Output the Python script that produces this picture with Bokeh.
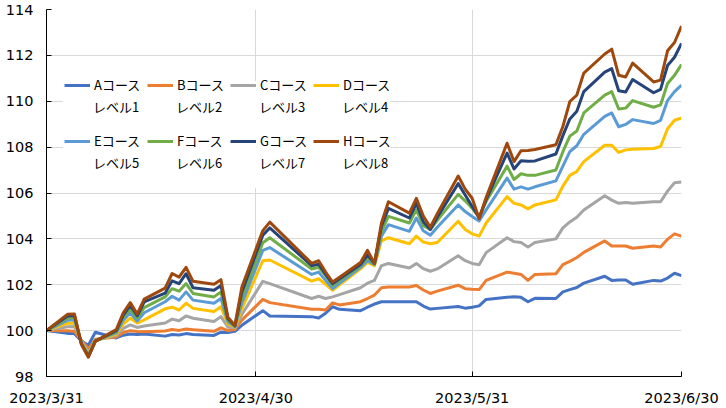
import pandas as pd
from bokeh.plotting import figure
from bokeh.models import FixedTicker, Legend, LegendItem
from bokeh.embed import file_html
from bokeh.resources import INLINE

dates = ["2023-03-31", "2023-04-03", "2023-04-04", "2023-04-05", "2023-04-06", "2023-04-07",
         "2023-04-10", "2023-04-11", "2023-04-12", "2023-04-13", "2023-04-14",
         "2023-04-17", "2023-04-18", "2023-04-19", "2023-04-20", "2023-04-21",
         "2023-04-24", "2023-04-25", "2023-04-26", "2023-04-27", "2023-04-28",
         "2023-05-01", "2023-05-02",
         "2023-05-08", "2023-05-09", "2023-05-10", "2023-05-11", "2023-05-12",
         "2023-05-15", "2023-05-16", "2023-05-17", "2023-05-18", "2023-05-19",
         "2023-05-22", "2023-05-23", "2023-05-24", "2023-05-25", "2023-05-26",
         "2023-05-29", "2023-05-30", "2023-05-31", "2023-06-01", "2023-06-02",
         "2023-06-05", "2023-06-06", "2023-06-07", "2023-06-08", "2023-06-09",
         "2023-06-12", "2023-06-13", "2023-06-14", "2023-06-15", "2023-06-16",
         "2023-06-19", "2023-06-20", "2023-06-21", "2023-06-22", "2023-06-23",
         "2023-06-26", "2023-06-27", "2023-06-28", "2023-06-29", "2023-06-30"]

course_a = [100, 99.88, 99.87, 99.55, 99.36, 99.93, 99.68, 99.8, 99.85, 99.83, 99.85, 99.76, 99.83, 99.81, 99.87, 99.83,
            99.79, 99.93, 99.92, 99.97, 100.23, 100.87, 100.64, 100.61, 100.55, 100.76, 101.04, 100.93, 100.87, 101.02,
            101.16, 101.26, 101.26, 101.26, 101.26, 101.07, 100.94, 100.97, 101.05, 100.98, 101.02, 101.08, 101.36, 101.45,
            101.48, 101.45, 101.26, 101.41, 101.4, 101.69, 101.79, 101.88, 102.07, 102.37, 102.19, 102.21, 102.21, 102.02,
            102.19, 102.16, 102.29, 102.5, 102.4]
course_b = [100, 99.99, 99.97, 99.58, 99.2, 99.62, 99.72, 99.92, 100.0, 99.96, 99.95, 99.98, 100.05, 100.01, 100.07, 100.04,
            99.97, 100.12, 100.0, 100.05, 100.46, 101.36, 101.22, 100.93, 100.93, 100.9, 101.21, 101.12, 101.26, 101.4,
            101.55, 101.87, 101.9, 101.9, 101.97, 101.77, 101.62, 101.72, 101.98, 101.83, 101.8, 101.79, 102.19, 102.55,
            102.5, 102.45, 102.19, 102.45, 102.48, 102.88, 103.02, 103.19, 103.41, 103.91, 103.69, 103.69, 103.69, 103.59,
            103.69, 103.65, 103.98, 104.22, 104.12]
course_c = [100, 100.17, 100.18, 99.55, 99.05, 99.58, 99.8, 100.1, 100.25, 100.14, 100.2, 100.33, 100.5, 100.43, 100.64, 100.54,
            100.4, 100.61, 100.15, 100.12, 100.7, 102.15, 102.05, 101.4, 101.5, 101.4, 101.47, 101.57, 101.87, 102.07,
            102.19, 102.83, 102.93, 102.73, 102.93, 102.7, 102.59, 102.69, 103.26, 103.05, 102.93, 102.87, 103.4, 104.05,
            103.88, 103.84, 103.65, 103.84, 104.0, 104.48, 104.74, 104.94, 105.26, 105.88, 105.69, 105.55, 105.59, 105.55,
            105.62, 105.62, 106.08, 106.45, 106.48]
course_d = [100, 100.32, 100.33, 99.5, 98.98, 99.57, 99.85, 100.28, 100.55, 100.33, 100.47, 100.95, 101.02, 100.9, 101.19, 100.97,
            100.83, 101.04, 100.28, 100.16, 100.95, 103.05, 103.08, 102.16, 102.26, 102.02, 101.76, 102.0, 102.69, 102.97,
            102.83, 103.91, 104.05, 103.79, 104.12, 103.86, 103.79, 103.84, 104.77, 104.41, 104.22, 104.12, 104.69, 105.84,
            105.55, 105.48, 105.31, 105.48, 105.7, 106.3, 106.77, 106.94, 107.37, 108.08, 108.08, 107.77, 107.88, 107.91,
            107.94, 108.03, 108.8, 109.17, 109.27]
course_e = [100, 100.45, 100.47, 99.47, 98.93, 99.56, 99.9, 100.45, 100.78, 100.42, 100.78, 101.26, 101.5, 101.33, 101.69, 101.33,
            101.19, 101.4, 100.38, 100.18, 101.2, 103.5, 103.62, 102.45, 102.55, 102.19, 101.83, 102.07, 102.76, 103.05,
            102.88, 104.12, 104.62, 104.33, 104.91, 104.35, 104.16, 104.51, 105.48, 105.19, 104.98, 104.78, 105.26, 106.65,
            106.17, 106.27, 106.17, 106.27, 106.53, 107.17, 107.8, 108.06, 108.56, 109.34, 109.49, 108.89, 108.99, 109.2,
            109.03, 109.17, 110.03, 110.42, 110.7]
course_f = [100, 100.55, 100.57, 99.45, 98.9, 99.55, 99.95, 100.58, 100.95, 100.55, 101.0, 101.47, 101.83, 101.72, 102.05, 101.62,
            101.47, 101.69, 100.45, 100.2, 101.45, 103.83, 104.05, 102.69, 102.76, 102.4, 101.97, 102.19, 102.83, 103.19,
            102.9, 104.33, 104.98, 104.69, 105.27, 104.58, 104.41, 104.81, 105.94, 105.66, 105.34, 104.95, 105.63, 107.17,
            106.59, 106.84, 106.77, 106.77, 107.0, 107.8, 108.48, 108.7, 109.49, 110.27, 110.42, 109.66, 109.7, 110.03,
            109.74, 109.84, 110.77, 111.13, 111.6]
course_g = [100, 100.64, 100.66, 99.42, 98.87, 99.54, 100.0, 100.68, 101.1, 100.65, 101.25, 101.63, 102.17, 102.05, 102.48, 101.87,
            101.76, 101.97, 100.52, 100.21, 101.7, 104.16, 104.48, 102.83, 102.9, 102.45, 102.05, 102.26, 102.88, 103.3,
            102.93, 104.55, 105.33, 104.91, 105.55, 104.75, 104.41, 104.94, 106.41, 105.91, 105.41, 104.92, 105.71, 107.74,
            107.05, 107.41, 107.38, 107.4, 107.7, 108.5, 109.23, 109.56, 110.42, 111.27, 111.42, 110.46, 110.4, 110.95,
            110.37, 110.52, 111.56, 111.92, 112.52]
course_h = [100, 100.71, 100.73, 99.4, 98.84, 99.53, 100.05, 100.78, 101.22, 100.72, 101.37, 101.85, 102.49, 102.33, 102.76, 102.15,
            102.02, 102.22, 100.58, 100.22, 101.9, 104.36, 104.73, 102.93, 103.05, 102.55, 102.12, 102.33, 102.97, 103.5,
            102.93, 104.69, 105.62, 105.12, 105.77, 105.0, 104.51, 105.1, 106.74, 106.17, 105.77, 104.88, 105.8, 108.17,
            107.37, 107.84, 107.85, 107.9, 108.1, 108.9, 109.99, 110.27, 111.23, 112.06, 112.27, 111.13, 111.06, 111.66,
            110.84, 110.92, 112.2, 112.56, 113.28]

series_names = ["Aコース", "Bコース", "Cコース", "Dコース", "Eコース", "Fコース", "Gコース", "Hコース"]
series_levels = ["レベル1", "レベル2", "レベル3", "レベル4", "レベル5", "レベル6", "レベル7", "レベル8"]
series_values = [course_a, course_b, course_c, course_d, course_e, course_f, course_g, course_h]
series_colors = ["#4472C4", "#ED7D31", "#A5A5A5", "#FFC000", "#5B9BD5", "#70AD47", "#264478", "#9E480E"]

x_tick_dates = ["2023-03-31", "2023-04-30", "2023-05-31", "2023-06-30"]
x_tick_labels = ["2023/3/31", "2023/4/30", "2023/5/31", "2023/6/30"]
y_ticks = [98, 100, 102, 104, 106, 108, 110, 112, 114]

x = pd.to_datetime(dates)
tick_ms = [pd.Timestamp(d).value / 1e6 for d in x_tick_dates]

p = figure(width=726, height=408, x_axis_type="datetime", output_backend="svg", toolbar_location=None,
           x_range=(x[0], x[-1]), y_range=(98, 114),
           min_border_left=46, min_border_right=45, min_border_top=9, min_border_bottom=30)
p.outline_line_color = None
p.background_fill_color = "white"

renderers = []
for vals, col in zip(series_values, series_colors):
    r = p.line(x, vals, line_color=col, line_width=3, line_join="round")
    renderers.append(r)

p.xaxis.ticker = FixedTicker(ticks=tick_ms)
p.xaxis.major_label_overrides = {t: lab for t, lab in zip(tick_ms, x_tick_labels)}
p.yaxis.ticker = FixedTicker(ticks=y_ticks)
for ax in (p.xaxis[0], p.yaxis[0]):
    ax.axis_line_color = "black"
    ax.major_tick_line_color = "black"
    ax.minor_tick_line_color = None
    ax.major_tick_in = 5
    ax.major_tick_out = 0
    ax.major_label_text_font = "DejaVu Sans"
    ax.major_label_text_font_size = "14.5px"
    ax.major_label_text_color = "black"
p.xaxis.major_label_standoff = 13
p.yaxis.major_label_standoff = 13

p.xgrid.grid_line_color = "#D9D9D9"
p.ygrid.grid_line_color = "#D9D9D9"
p.xgrid.ticker = FixedTicker(ticks=tick_ms)
p.ygrid.ticker = FixedTicker(ticks=y_ticks)

common = dict(orientation="horizontal", ncols=4, label_width=48, label_height=51, spacing=5,
              label_text_font="Noto Sans CJK JP", label_text_font_size="13px",
              label_text_color="black", border_line_color=None)

# second text line of each entry (no glyph); its white box hides the gridlines behind the legend
level_legend = Legend(items=[LegendItem(label=lv, renderers=[r]) for lv, r in zip(series_levels, renderers)],
                      location=(17, 188), glyph_width=0, glyph_height=1, label_standoff=30, padding=5,
                      background_fill_color="white", background_fill_alpha=1.0, **common)
name_legend = Legend(items=[LegendItem(label=n, renderers=[r]) for n, r in zip(series_names, renderers)],
                     location=(18, 210), glyph_width=26, glyph_height=16, label_standoff=4, padding=0,
                     background_fill_alpha=0.0, **common)
p.add_layout(level_legend)
p.add_layout(name_legend)

open("out.html", "w").write(file_html(p, INLINE))
